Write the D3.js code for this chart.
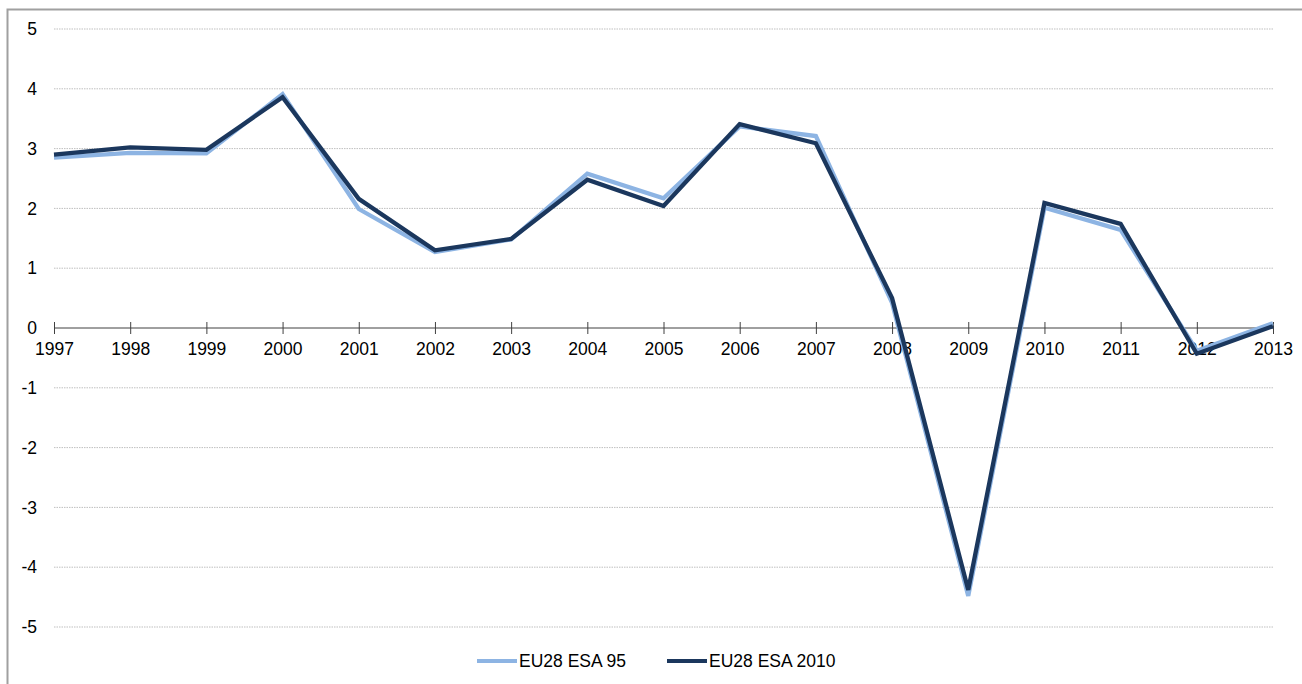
<!DOCTYPE html>
<html lang="en">
<head>
  <meta charset="UTF-8">
  <title>EU28 ESA 95 vs ESA 2010</title>
  <script src="https://d3js.org/d3.v7.min.js"></script>
  <style>
    body { margin: 0; background: #fff; font-family: "Liberation Sans", Arial, sans-serif; }
    .grid line { stroke: #bfbfbf; stroke-dasharray: 1.5 1; }
    .line { fill: none; stroke-width: 4.3; stroke-linejoin: miter; }
    text { fill: #000; }
  </style>
</head>
<body>
  <div id="chart"></div>
  <script>
    // data
    const years = ["1997","1998","1999","2000","2001","2002","2003","2004","2005","2006","2007","2008","2009","2010","2011","2012","2013"];
    const esa95   = [2.85, 2.93, 2.92, 3.91, 1.99, 1.27, 1.48, 2.58, 2.17, 3.37, 3.21, 0.42, -4.48, 2.01, 1.64, -0.38, 0.08];
    const esa2010 = [2.90, 3.02, 2.98, 3.86, 2.16, 1.30, 1.49, 2.48, 2.04, 3.41, 3.09, 0.50, -4.38, 2.09, 1.74, -0.43, 0.03];
    const yTicks = [5, 4, 3, 2, 1, 0, -1, -2, -3, -4, -5];
    const seriesNames = ["EU28 ESA 95", "EU28 ESA 2010"];
    const seriesColors = ["#8db4e3", "#1b375d"];

    const W = 1302, H = 684;
    const fs = 17.5;
    const svg = d3.select("#chart").append("svg")
      .attr("width", W).attr("height", H);

    // frame
    svg.append("path")
      .attr("d", "M7.5,684 V9.5 H1302")
      .attr("fill", "none").attr("stroke", "#a0a0a0").attr("stroke-width", 2);

    const x = d3.scalePoint().domain(years).range([54, 1273]);
    const y = d3.scaleLinear().domain([-5, 5]).range([627, 29]);

    // gridlines
    svg.append("g").attr("class", "grid")
      .selectAll("line").data(yTicks.filter(d => d !== 0)).join("line")
      .attr("x1", 54).attr("x2", 1273)
      .attr("y1", d => y(d)).attr("y2", d => y(d));

    // y labels
    svg.append("g").selectAll("text").data(yTicks).join("text")
      .attr("x", 37).attr("y", d => y(d)).attr("dy", "0.35em")
      .attr("text-anchor", "end").attr("font-size", fs)
      .text(d => d);

    // x axis at zero
    const xAxis = svg.append("g")
      .attr("transform", `translate(0,${y(0)})`)
      .call(d3.axisBottom(x).tickSize(6).tickPadding(9));
    xAxis.select(".domain").attr("stroke", "#404040").attr("d", `M54,0H1273`);
    xAxis.selectAll(".tick line").attr("stroke", "#404040").attr("y1", -6).attr("y2", 6);
    xAxis.selectAll(".tick text").attr("font-size", fs)
      .attr("font-family", "'Liberation Sans', Arial, sans-serif").attr("fill", "#000");

    const line = d3.line().x((d, i) => x(years[i])).y(d => y(d));

    [esa95, esa2010].forEach((s, k) => {
      svg.append("path").datum(s)
        .attr("class", "line")
        .attr("stroke", seriesColors[k])
        .attr("d", line);
    });

    // legend
    const legendX = [477, 667];
    seriesNames.forEach((name, k) => {
      const g = svg.append("g").attr("transform", `translate(${legendX[k]},661)`);
      g.append("line").attr("x1", 0).attr("x2", 40).attr("y1", 0).attr("y2", 0)
        .attr("stroke", seriesColors[k]).attr("stroke-width", 4);
      g.append("text").attr("x", 42).attr("dy", "0.35em").attr("font-size", fs).text(name);
    });
  </script>
</body>
</html>
